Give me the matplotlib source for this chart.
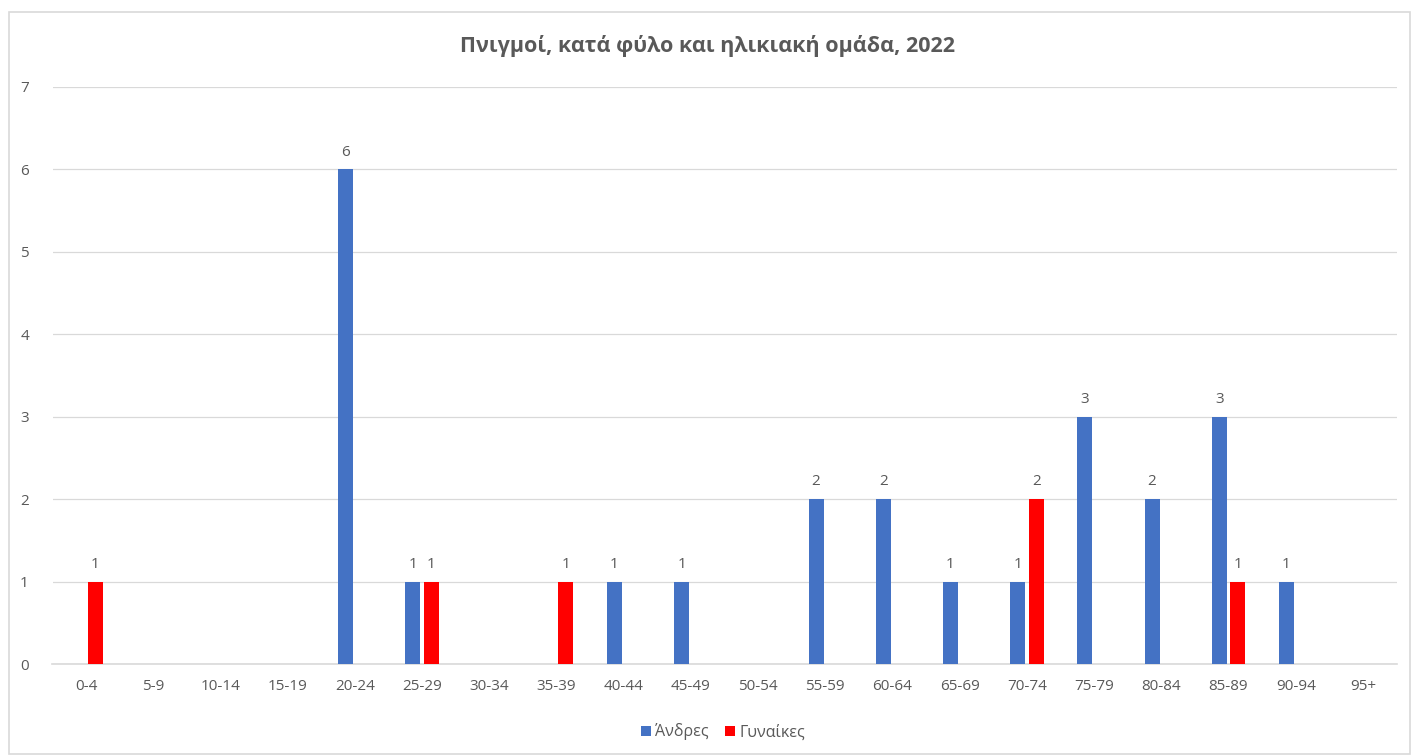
import matplotlib.pyplot as plt
import numpy as np

plt.rcParams['font.family'] = ['Open Sans', 'DejaVu Sans']

# age groups and counts
ages = ['0-4', '5-9', '10-14', '15-19', '20-24', '25-29', '30-34', '35-39', '40-44', '45-49',
        '50-54', '55-59', '60-64', '65-69', '70-74', '75-79', '80-84', '85-89', '90-94', '95+']
men = [0, 0, 0, 0, 6, 1, 0, 0, 1, 1, 0, 2, 2, 1, 1, 3, 2, 3, 1, 0]
women = [1, 0, 0, 0, 0, 1, 0, 1, 0, 0, 0, 0, 0, 0, 2, 0, 0, 1, 0, 0]

txt = '#595959'
grid = '#d9d9d9'

fig = plt.figure(figsize=(14.15, 7.56), dpi=100)
ax = fig.add_axes([52.5 / 1415, 92 / 756, 1344 / 1415, 577 / 756])

x = np.arange(len(ages))
w = 0.224
off = 0.138
b1 = ax.bar(x - off, men, w, color='#4472C4', label='Άνδρες', zorder=3)
b2 = ax.bar(x + off, women, w, color='#FF0000', label='Γυναίκες', zorder=3)

for bars, vals in ((b1, men), (b2, women)):
    for b, v in zip(bars, vals):
        if v:
            ax.text(b.get_x() + b.get_width() / 2, v + 0.12, str(v), ha='center', va='bottom',
                    fontsize=11, color=txt)

ax.set_xlim(-0.5, len(ages) - 0.5)
ax.set_ylim(0, 7)
ax.set_yticks(range(8))
ax.set_xticks(x, ages)
ax.tick_params(axis='both', length=0, labelsize=11, colors=txt)
ax.tick_params(axis='x', pad=11)
ax.tick_params(axis='y', pad=17)
ax.grid(axis='y', color=grid, lw=0.9, zorder=0)
for s in ['top', 'right', 'left']:
    ax.spines[s].set_visible(False)
ax.spines['bottom'].set_color(grid)
ax.spines['bottom'].set_linewidth(1.2)

fig.text(0.5, 1 - 46 / 756, 'Πνιγμοί, κατά φύλο και ηλικιακή ομάδα, 2022', ha='center', va='center',
         fontsize=15.5, fontweight='bold', color=txt)

fig.legend(handles=[b1, b2], loc='center', bbox_to_anchor=(0.511, 1 - 732 / 756), ncol=2, frameon=False,
           fontsize=11.5, handlelength=0.65, handleheight=0.65, handletextpad=0.25, columnspacing=1.0,
           labelcolor=txt)

# chart border
fig.patches.append(plt.Rectangle((9 / 1415, 0.002), 1401 / 1415, 1 - 12 / 756 - 0.002,
                                 transform=fig.transFigure, fill=False, edgecolor=grid, lw=1.2))

fig.savefig('out.png', dpi=100, facecolor='white')
